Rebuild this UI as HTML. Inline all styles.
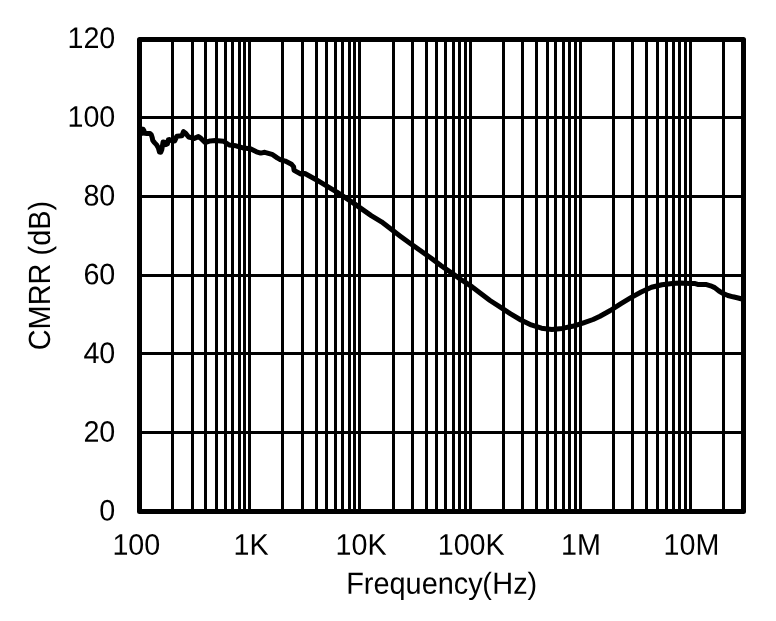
<!DOCTYPE html>
<html><head><meta charset="utf-8"><title>CMRR vs Frequency</title>
<style>html,body{margin:0;padding:0;background:#fff}svg{display:block}text{font-family:"Liberation Sans",Arial,sans-serif;font-size:28.7px;fill:#000}</style></head><body>
<svg width="776" height="621" viewBox="0 0 776 621">
<rect width="776" height="621" fill="#fff"/>
<path d="M171 40h3v470h-3zM191 40h3v470h-3zM204 40h3v470h-3zM215 40h3v470h-3zM224 40h3v470h-3zM231 40h3v470h-3zM238 40h3v470h-3zM243 40h3v470h-3zM248 40h3v470h-3zM281 40h3v470h-3zM301 40h3v470h-3zM315 40h3v470h-3zM325 40h3v470h-3zM334 40h3v470h-3zM341 40h3v470h-3zM348 40h3v470h-3zM353 40h3v470h-3zM358 40h3v470h-3zM392 40h3v470h-3zM411 40h3v470h-3zM425 40h3v470h-3zM435 40h3v470h-3zM444 40h3v470h-3zM452 40h3v470h-3zM458 40h3v470h-3zM464 40h3v470h-3zM469 40h3v470h-3zM502 40h3v470h-3zM521 40h3v470h-3zM535 40h3v470h-3zM546 40h3v470h-3zM554 40h3v470h-3zM562 40h3v470h-3zM568 40h3v470h-3zM574 40h3v470h-3zM579 40h3v470h-3zM612 40h3v470h-3zM631 40h3v470h-3zM645 40h3v470h-3zM656 40h3v470h-3zM665 40h3v470h-3zM672 40h3v470h-3zM678 40h3v470h-3zM684 40h3v470h-3zM689 40h3v470h-3zM722 40h3v470h-3zM140 116h603v3h-603zM140 195h603v3h-603zM140 274h603v3h-603zM140 352h603v3h-603zM140 431h603v3h-603z" fill="#000" shape-rendering="crispEdges"/>
<path d="M143.5 133.3 L141.0 133.3 L141.0 129.0 L143.0 129.2 L143.9 130.6 L144.6 133.2 L147.0 133.4 L150.0 133.5 L151.3 134.8 L152.2 137.5 L152.8 140.5 L154.5 142.6 L156.4 144.6 L158.4 148.0 L159.1 150.6 L159.5 152.0 L160.8 152.2 L161.8 149.6 L162.4 146.0 L163.1 142.0 L164.2 142.2 L165.9 144.6 L167.4 143.8 L168.4 139.7 L169.6 139.6 L171.1 140.4 L174.7 140.9 L176.8 136.3 L181.9 135.8 L183.5 131.6 L185.5 133.2 L188.6 137.0 L194.3 138.4 L198.4 136.6 L201.0 138.4 L205.1 142.5 L210.2 140.9 L215.3 140.4 L223.6 141.2 L229.2 145.0 L235.9 145.8 L243.1 147.9 L250.4 148.7 L256.5 151.8 L260.7 153.1 L264.8 152.3 L272.0 154.3 L277.2 157.9 L280.2 159.6 L285.3 161.1 L291.5 164.2 L293.6 166.8 L294.1 170.4 L300.8 174.0 L304.9 173.5 L316.2 179.7 L326.5 185.9 L336.9 192.1 L340.3 194.4 L350.6 201.1 L360.9 208.4 L371.2 215.6 L381.5 221.8 L391.9 229.8 L400.0 235.9 L410.3 243.4 L420.6 250.8 L430.9 258.0 L441.2 265.7 L451.5 272.9 L461.9 280.2 L472.2 286.9 L490.0 300.5 L500.3 307.2 L510.6 313.9 L520.9 320.0 L531.2 324.9 L541.5 328.2 L551.9 329.6 L562.2 328.4 L572.5 326.3 L582.8 323.2 L593.1 319.5 L600.0 316.2 L610.3 310.5 L620.6 303.8 L630.9 297.6 L641.2 292.0 L651.5 287.3 L661.9 284.7 L672.2 283.5 L680.0 283.0 L690.0 283.5 L695.2 283.6 L697.7 284.4 L700.3 284.6 L706.5 284.6 L710.6 285.8 L714.7 287.6 L719.0 291.0 L723.3 293.6 L727.9 295.5 L733.0 296.8 L738.2 298.0 L742.0 299.0" stroke="#000" stroke-width="5.0" fill="none" stroke-linejoin="round" stroke-linecap="butt"/>
<rect x="139.5" y="39.5" width="604.0" height="472.0" stroke="#000" stroke-width="5" fill="none" stroke-linejoin="round"/>
<text transform="translate(115.3 48.0) rotate(0.03) scale(1 1.035)" text-anchor="end">120</text>
<text transform="translate(115.3 126.8) rotate(0.03) scale(1 1.035)" text-anchor="end">100</text>
<text transform="translate(115.3 205.5) rotate(0.03) scale(1 1.035)" text-anchor="end">80</text>
<text transform="translate(115.3 284.3) rotate(0.03) scale(1 1.035)" text-anchor="end">60</text>
<text transform="translate(115.3 363.1) rotate(0.03) scale(1 1.035)" text-anchor="end">40</text>
<text transform="translate(115.3 441.8) rotate(0.03) scale(1 1.035)" text-anchor="end">20</text>
<text transform="translate(115.3 520.6) rotate(0.03) scale(1 1.035)" text-anchor="end">0</text>
<text transform="translate(136.3 554.8) rotate(0.03) scale(1 1.035)" text-anchor="middle">100</text>
<text transform="translate(251.0 554.8) rotate(0.03) scale(1 1.035)" text-anchor="middle">1K</text>
<text transform="translate(361.0 554.8) rotate(0.03) scale(1 1.035)" text-anchor="middle">10K</text>
<text transform="translate(471.2 554.8) rotate(0.03) scale(1 1.035)" text-anchor="middle">100K</text>
<text transform="translate(581.0 554.8) rotate(0.03) scale(1 1.035)" text-anchor="middle">1M</text>
<text transform="translate(691.4 554.8) rotate(0.03) scale(1 1.035)" text-anchor="middle">10M</text>
<text transform="translate(441.7 593.7) rotate(0.03) scale(1 1.055)" text-anchor="middle" style="font-size:28.9px">Frequency<tspan dx="-0.3">(</tspan><tspan dx="0.3">Hz)</tspan></text>
<text transform="translate(49.95 275.6) rotate(-90.03) scale(1 1.058)" text-anchor="middle" style="font-size:28.95px">CMRR (dB)</text>
</svg></body></html>
